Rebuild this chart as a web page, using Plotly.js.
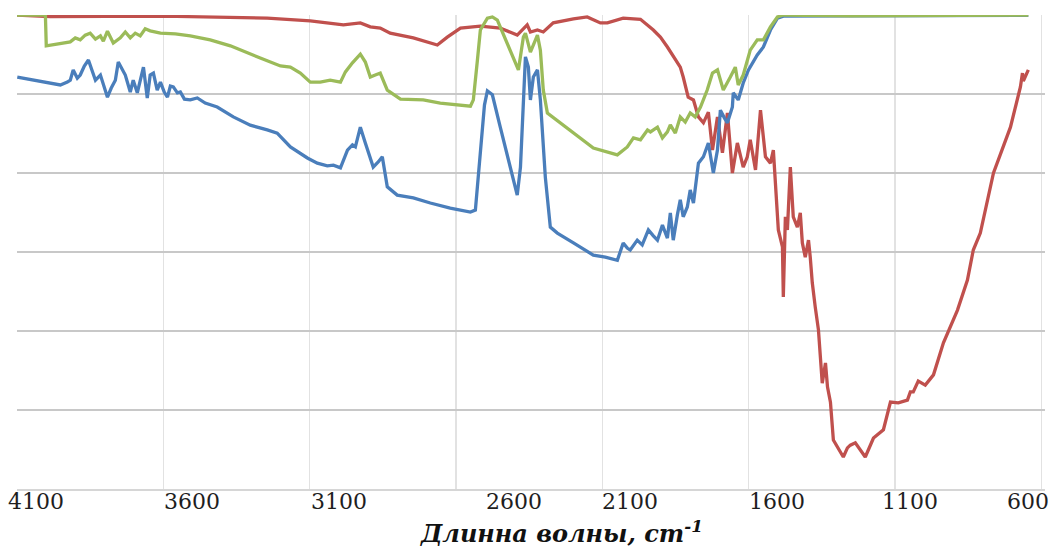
<!DOCTYPE html>
<html>
<head>
<meta charset="utf-8">
<script src="https://cdn.plot.ly/plotly-3.0.1.min.js"></script>
<style>
  html, body { margin: 0; padding: 0; background: #ffffff; }
  #chart { width: 1053px; height: 551px; }
</style>
</head>
<body>
<div id="chart"></div>
<script>
// ---- Data (wavenumber, cm-1 ; transmittance, arbitrary units) ----
const blueWave = [4099,4010,3952,3928,3918,3908,3894,3884,3870,3856,3843,3832,3815,3802,3791,3778,3764,3754,3740,3730,3713,3703,3689,3679,3668,3655,3645,3634,3621,3610,3597,3586,3576,3566,3552,3542,3528,3508,3484,3457,3416,3361,3303,3245,3211,3166,3108,3074,3040,3019,2995,2971,2954,2944,2927,2910,2883,2866,2852,2835,2801,2746,2688,2620,2551,2534,2517,2503,2493,2476,2449,2415,2391,2380,2370,2363,2353,2346,2336,2322,2312,2295,2278,2254,2199,2131,2090,2049,2029,2015,2005,1981,1964,1943,1926,1912,1895,1878,1868,1858,1844,1834,1824,1810,1800,1789,1772,1755,1738,1721,1707,1697,1683,1673,1656,1653,1636,1619,1601,1584,1571,1550,1526,1502,1482,1253,645];
const blueT = [104.3,103.0,102.3,103.0,103.5,106.1,104.0,104.8,107.1,108.6,105.6,103.5,104.8,102.0,99.2,101.5,103.5,108.1,106.1,104.8,100.5,103.5,100.3,103.5,106.8,99.0,104.8,105.3,101.0,103.0,100.5,99.2,102.0,101.8,100.3,100.5,98.7,98.5,99.0,97.7,96.7,94.2,92.1,90.9,90.1,86.6,83.8,82.5,81.8,82.0,81.3,85.8,87.1,86.6,91.6,87.6,81.5,82.8,84.1,76.5,74.4,73.7,72.4,71.1,70.1,70.6,85.8,97.2,100.8,99.8,91.6,81.5,74.4,81.5,98.5,109.4,106.8,98.5,104.3,106.1,98.5,78.9,66.3,64.8,62.3,59.2,58.7,57.9,62.3,61.0,60.5,63.0,61.8,65.6,64.1,63.0,66.8,63.5,69.9,63.0,69.4,73.2,68.9,71.4,75.7,72.4,82.5,84.1,87.6,80.0,85.8,95.9,93.9,92.7,96.7,100.3,98.5,102.8,106.1,108.1,109.9,111.9,116.2,119.2,119.7,119.8,119.9];

const redWave = [4100,3986,3600,3361,3245,3098,2985,2927,2893,2859,2825,2746,2664,2630,2585,2517,2449,2391,2374,2357,2346,2322,2302,2268,2199,2152,2107,2083,2029,1970,1926,1902,1878,1861,1844,1834,1824,1807,1789,1772,1755,1738,1724,1707,1690,1673,1656,1639,1619,1605,1595,1577,1560,1543,1526,1516,1499,1485,1482,1475,1468,1458,1448,1434,1424,1417,1407,1396,1390,1383,1373,1362,1349,1338,1331,1321,1311,1297,1277,1263,1253,1236,1219,1202,1174,1140,1116,1089,1058,1048,1038,1021,997,969,935,887,853,833,809,764,706,672,665,662,645];
const redT = [120.0,119.6,119.7,119.5,119.2,118.5,117.5,118.0,117.0,116.7,115.4,114.2,112.4,114.4,116.7,117.2,116.7,114.9,116.2,117.5,115.7,116.2,115.7,118.0,119.0,119.5,118.0,118.0,119.2,118.9,116.2,114.4,111.9,109.9,107.8,106.8,104.3,99.2,98.5,94.2,92.7,95.4,85.8,94.2,85.1,95.2,80.0,87.6,81.5,84.1,88.4,80.8,95.9,84.1,82.5,85.8,65.6,61.3,48.6,68.9,65.6,81.5,68.9,66.3,69.9,62.3,58.7,63.0,58.7,52.2,46.1,40.3,26.8,31.9,25.8,22.0,12.4,10.6,8.1,10.4,11.1,11.7,9.9,8.1,12.9,15.0,22.0,21.8,22.5,24.6,24.6,27.3,26.3,28.9,37.0,45.3,52.9,60.5,64.8,80.0,91.6,101.8,105.3,103.3,106.1];

const greenWave = [4100,4003,4000,3952,3918,3901,3884,3867,3850,3832,3815,3805,3791,3771,3747,3730,3713,3696,3679,3662,3645,3610,3559,3508,3440,3371,3320,3269,3200,3166,3132,3098,3064,3030,2995,2978,2954,2927,2910,2893,2876,2859,2835,2790,2712,2654,2551,2541,2527,2517,2493,2476,2459,2425,2387,2370,2363,2346,2322,2312,2302,2288,2220,2131,2049,2015,1994,1970,1946,1936,1912,1895,1878,1868,1851,1834,1817,1800,1783,1765,1742,1724,1707,1687,1663,1646,1636,1619,1595,1571,1550,1526,1502,1482,1253,911,645];
const greenT = [120.0,120.0,112.2,112.7,113.2,114.2,113.7,114.9,115.4,113.9,114.7,113.4,115.9,112.9,114.2,115.7,114.2,115.4,114.7,116.5,116.0,115.4,115.2,114.7,113.7,112.2,110.6,109.1,107.1,106.8,105.3,103.0,103.0,103.5,103.0,105.6,107.9,110.1,108.1,104.3,104.8,105.3,101.0,98.7,98.5,97.7,96.9,98.5,108.6,116.2,119.2,119.5,118.7,112.9,106.1,114.4,115.4,110.6,114.9,111.1,101.0,95.2,91.4,86.3,84.6,86.6,88.9,88.4,90.9,90.4,91.6,88.9,90.4,92.2,90.1,94.2,92.9,95.2,94.2,96.7,101.0,105.3,106.1,101.0,104.3,106.8,102.3,104.8,111.1,113.7,113.7,117.0,119.5,120.0,119.8,119.9,120.0];

const tickValues = [4100,3600,3100,2600,2100,1600,1100,600];
const tickLabels = ['4100','3600','3100','2600','2100','1600','1100','600'];
const xTitle = 'Длинна волны, cm<sup>-1</sup>';

// ---- Layout-only placement of the (offset) tick labels ----
const labelPositions = [4034,3501,2999,2401,2005,1502,1048,645];

const serifFam = 'DejaVu Serif';
const lineW = 3.3;
const traces = [
  {x: redWave, y: redT, type: 'scatter', mode: 'lines', line: {color: '#C0504D', width: lineW}, hoverinfo: 'skip'},
  {x: blueWave, y: blueT, type: 'scatter', mode: 'lines', line: {color: '#4A7EBB', width: lineW}, hoverinfo: 'skip'},
  {x: greenWave, y: greenT, type: 'scatter', mode: 'lines', line: {color: '#9BBB59', width: lineW}, hoverinfo: 'skip'}
];

const annotations = tickLabels.map((t, i) => ({
  text: t, xref: 'x', yref: 'paper', x: labelPositions[i], y: -0.027,
  xanchor: 'center', yanchor: 'middle', showarrow: false,
  font: {family: serifFam, size: 22, color: '#1e1e1e'}
}));
annotations.push({
  text: '<b><i>' + xTitle + '</i></b>', xref: 'paper', yref: 'paper',
  x: 0.53, y: -0.09, xanchor: 'center', yanchor: 'middle', showarrow: false,
  font: {family: serifFam, size: 24, color: '#111111'}
});

const layout = {
  width: 1053, height: 551,
  margin: {l: 17, r: 8, t: 15, b: 62},
  paper_bgcolor: '#ffffff', plot_bgcolor: '#ffffff',
  showlegend: false,
  xaxis: {
    range: [4100, 588],
    tickmode: 'array', tickvals: tickValues,
    showticklabels: false, ticks: '',
    showgrid: true, gridcolor: '#e2e2e2', gridwidth: 1.3,
    showline: true, linecolor: '#d6d6d6', linewidth: 1.5,
    zeroline: false
  },
  yaxis: {
    range: [0, 120], dtick: 20, tick0: 0,
    showticklabels: false, ticks: '',
    showgrid: true, gridcolor: '#c8c8c8', gridwidth: 1.5,
    zeroline: false, showline: false
  },
  annotations: annotations
};

Plotly.newPlot('chart', traces, layout, {staticPlot: true, displayModeBar: false});
</script>
</body>
</html>
